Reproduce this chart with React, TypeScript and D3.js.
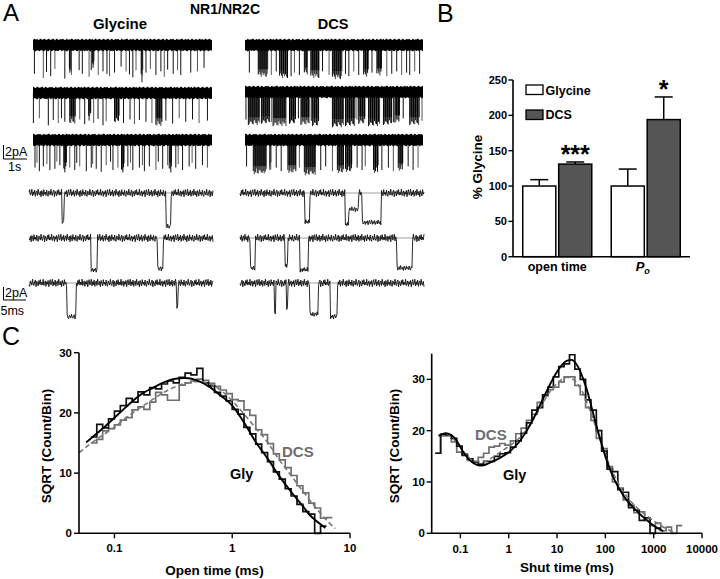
import React from 'react';
import * as d3 from 'd3';

const FONT = '"Liberation Sans", Arial, Helvetica, sans-serif';
const GRAY = '#6e6e6e';
const BAR_DARK = '#555555';
const PX_PER_PA = 6;

// ---------- Panel A: traces ----------
const NOISE = [0.3, -0.6, 0.9, -0.2, -0.8, 0.5, 0.1, -0.9, 0.7, -0.3, 0.4, -0.7, 0.8, -0.1, -0.5, 0.6, -0.9, 0.2, 0.5, -0.4, 0.9, -0.6, 0.0, 0.7, -0.8, 0.3, -0.2, 0.6, -0.7, 0.4, 0.8, -0.5, -0.1, 0.5, -0.9, 0.2, 0.6, -0.3, -0.7, 0.9, -0.4, 0.1, 0.7, -0.6, 0.3, -0.8, 0.5, -0.2, 0.4, -0.9, 0.6, 0.1, -0.5, 0.8, -0.3];

// compressed traces: spikes [time s, amplitude pA], bursts [start s, end s, amplitude pA]
const GLY_C1_SPIKES = [[0.07, 4.8], [0.52, 5.5], [0.68, 4.5], [0.89, 5.2], [1.1, 4.0], [1.6, 5.6], [1.85, 4.6], [1.93, 5.0], [2.32, 4.2], [2.48, 4.8], [2.82, 5.3], [2.93, 4.2], [3.02, 3.8], [3.28, 5.0], [3.52, 4.4], [3.72, 4.8], [3.85, 5.2], [4.1, 4.6], [4.43, 3.6], [4.68, 4.4], [4.85, 4.9], [5.02, 5.4], [5.18, 4.2], [5.48, 6.2], [5.68, 4.6], [5.9, 4.0], [6.18, 5.0], [6.43, 4.4], [6.6, 5.3], [6.77, 4.1], [7.05, 4.8], [7.27, 4.2], [7.43, 5.0], [7.93, 4.6], [8.27, 4.4], [8.6, 3.8]];
const GLY_C1_BURSTS = [[1.83, 1.95, 4.5], [3.0, 3.08, 3.5], [5.44, 5.54, 5.5]];
const GLY_C2_SPIKES = [[0.02, 5.0], [0.32, 4.2], [0.77, 5.4], [1.02, 4.5], [1.27, 5.0], [1.43, 4.2], [1.6, 4.8], [2.35, 4.4], [2.6, 5.2], [2.82, 4.6], [3.05, 5.0], [3.27, 4.3], [3.52, 5.4], [3.68, 4.7], [4.55, 5.0], [4.88, 4.4], [5.1, 5.2], [5.35, 4.5], [5.68, 4.8], [5.98, 5.0], [6.68, 4.6], [7.02, 5.1], [7.35, 4.2], [7.68, 4.8], [8.02, 4.4], [8.35, 5.0], [8.77, 4.6]];
const GLY_C2_BURSTS = [[1.85, 2.15, 5.2], [2.8, 2.9, 4.0], [4.1, 4.35, 5.0], [6.18, 6.48, 5.6]];
const GLY_C3_SPIKES = [[0.1, 4.6], [0.2, 3.8], [0.32, 5.2], [0.52, 4.4], [0.7, 4.0], [0.85, 5.0], [1.1, 4.8], [1.2, 3.6], [1.35, 4.2], [1.6, 5.4], [1.85, 4.6], [2.1, 5.0], [2.2, 3.8], [2.35, 4.4], [2.68, 5.2], [2.93, 4.6], [3.0, 4.0], [3.18, 4.8], [3.43, 5.3], [3.68, 4.2], [3.9, 3.6], [4.02, 5.0], [4.27, 4.6], [4.52, 5.4], [4.77, 4.4], [4.9, 3.8], [5.02, 5.0], [5.35, 4.6], [5.5, 4.2], [5.6, 5.2], [5.85, 4.4], [6.18, 5.0], [6.3, 3.6], [6.52, 4.8], [6.77, 4.2], [6.93, 5.4], [7.18, 4.6], [7.3, 4.0], [7.52, 5.0], [7.85, 4.4], [8.0, 3.8], [8.18, 4.8], [8.52, 4.2], [8.77, 4.6]];
const GLY_C3_BURSTS = [[1.55, 1.7, 5.0], [4.45, 4.6, 5.2], [6.85, 6.98, 5.0]];
const DCS_C1_SPIKES = [[0.22, 4.6], [1.33, 5.0], [1.58, 4.4], [2.33, 5.2], [2.5, 4.6], [2.75, 5.0], [3.92, 4.4], [4.25, 5.0], [5.08, 4.8], [5.25, 5.2], [5.5, 4.4], [5.75, 5.0], [6.42, 4.6], [7.17, 5.2], [7.42, 4.8], [7.67, 4.4], [7.92, 5.0], [8.17, 4.6], [8.33, 5.0], [8.58, 4.4], [8.83, 4.8]];
const DCS_C1_BURSTS = [[0.67, 1.17, 5.4], [1.75, 2.17, 5.6], [3.0, 3.17, 5.0], [3.33, 3.75, 5.6], [4.42, 4.92, 5.8], [6.0, 6.25, 5.4], [6.67, 6.92, 5.2]];
const DCS_C2_SPIKES = [[0.05, 4.6], [1.33, 5.0], [2.7, 4.4], [3.35, 4.8], [5.66, 4.6], [7.5, 5.0], [8.0, 4.4], [8.95, 4.8]];
const DCS_C2_BURSTS = [[0.17, 0.75, 5.6], [0.83, 1.25, 5.4], [1.42, 2.08, 5.8], [2.25, 2.58, 5.4], [2.83, 3.25, 5.6], [3.42, 3.72, 5.8], [4.42, 5.0, 6.0], [5.08, 5.58, 5.8], [5.75, 6.08, 5.4], [6.25, 6.83, 5.8], [7.0, 7.42, 5.6], [7.58, 7.83, 5.2], [8.33, 8.83, 5.6]];
const DCS_C3_SPIKES = [[0.08, 4.4], [1.25, 5.0], [1.58, 4.6], [1.83, 5.2], [2.75, 4.6], [3.83, 5.0], [4.08, 4.4], [4.42, 5.2], [5.67, 4.6], [5.92, 5.0], [6.08, 4.4], [6.92, 5.0], [7.25, 4.6], [7.5, 5.2], [8.25, 4.4], [8.5, 5.0], [8.75, 4.6]];
const DCS_C3_BURSTS = [[0.42, 1.08, 5.8], [1.25, 1.33, 5.0], [2.17, 2.58, 5.6], [3.0, 3.58, 6.0], [4.67, 5.0, 5.6], [5.08, 5.42, 5.4], [6.5, 6.75, 5.6], [7.75, 8.0, 5.2]];

// expanded traces: openings [start ms, end ms, amplitude pA]
const GLY_E1 = [[8.25, 8.7, 4.8], [34.2, 35.5, 5.6]];
const GLY_E2 = [[15.5, 17.0, 5.3], [32.2, 33.6, 5.1]];
const GLY_E3 = [[9.5, 11.8, 5.6], [36.9, 37.3, 4.0]];
const DCS_E1 = [[16.2, 17.5, 4.8], [26.2, 27.2, 5.2], [27.2, 29.6, 2.7], [30.6, 35.3, 4.9]];
const DCS_E2 = [[2.5, 3.8, 5.0], [11.2, 12.0, 4.5], [15.0, 17.0, 5.3], [39.2, 43.0, 5.0]];
const DCS_E3 = [[8.6, 9.0, 4.8], [11.6, 12.0, 4.2], [17.5, 19.5, 5.2], [22.5, 24.3, 5.6]];

// ---------- Panel B ----------
const B_GROUPS = ['open time', 'Po'];
const B_SERIES = ['Glycine', 'DCS'];
const B_MEAN_GLY = [100, 100];
const B_MEAN_DCS = [131, 194];
const B_SEM_GLY = [9, 24];
const B_SEM_DCS = [3, 32];
const B_STARS = ['***', '*'];
const B_TICKS = [0, 50, 100, 150, 200, 250];

// ---------- Panel C ----------
const OPEN_TICKS = [0.1, 1, 10];
const OPEN_TICK_LABELS = ['0.1', '1', '10'];
const SHUT_TICKS = [0.1, 1, 10, 100, 1000, 10000];
const SHUT_TICK_LABELS = ['0.1', '1', '10', '100', '1000', '10000'];
const Y_TICKS_C = [0, 10, 20, 30];

const OPEN_BIN_START_LOG = -1.2;
const OPEN_BIN_WIDTH_LOG = 0.05;
const OPEN_GLY_HIST = [16.0, 18.1, 17.5, 19.0, 20.3, 21.2, 22.4, 21.8, 23.5, 23.0, 24.2, 24.0, 24.8, 25.3, 25.0, 25.9, 26.6, 26.3, 27.4, 25.0, 24.5, 23.4, 22.8, 22.0, 20.6, 19.8, 17.6, 16.5, 14.8, 13.4, 11.9, 10.2, 9.0, 7.4, 6.2, 4.8, 3.6, 3.2, 0, 1.2];
const OPEN_DCS_HIST = [15.0, 15.6, 17.0, 17.4, 18.0, 18.8, 19.2, 20.5, 21.0, 20.6, 21.8, 23.4, 23.0, 22.1, 22.1, 24.6, 25.0, 25.3, 25.6, 25.4, 24.9, 24.4, 23.8, 23.2, 22.2, 22.0, 20.5, 19.6, 17.2, 16.4, 14.9, 13.2, 12.2, 10.9, 9.6, 7.9, 6.7, 5.0, 4.2, 2.5, 2.6];
const OPEN_GLY_FIT_T = [0.0575, 0.0794, 0.1, 0.126, 0.158, 0.182, 0.2, 0.251, 0.316, 0.398, 0.501, 0.631, 0.794, 1, 1.26, 1.58, 2.0, 2.51, 3.16, 3.98, 4.57, 5.01, 6.17];
const OPEN_GLY_FIT_Y = [15.1, 17.4, 19.2, 21.0, 22.7, 23.5, 23.9, 24.9, 25.6, 25.8, 25.4, 24.4, 22.9, 21.2, 18.4, 15.2, 12.4, 9.5, 6.9, 4.5, 3.0, 2.3, 0.9];
const OPEN_DCS_FIT_T = [0.05, 0.063, 0.0794, 0.1, 0.126, 0.158, 0.2, 0.251, 0.316, 0.398, 0.501, 0.631, 0.794, 1, 1.26, 1.58, 2.0, 2.51, 3.16, 3.98, 5.01, 6.31, 7.5];
const OPEN_DCS_FIT_Y = [13.4, 14.9, 16.3, 17.6, 19.2, 20.6, 21.9, 23.2, 24.2, 24.9, 25.2, 24.9, 23.8, 22.0, 19.8, 17.5, 15.1, 12.2, 9.6, 7.0, 4.5, 2.2, 0.8];

const SHUT_BIN_START_LOG = -1.52;
const SHUT_BIN_WIDTH_LOG = 1 / 9;
const SHUT_GLY_HIST = [15.6, 19.3, 19.2, 18.5, 17.0, 15.2, 14.5, 13.8, 13.5, 14.0, 14.0, 15.0, 15.5, 15.7, 16.8, 18.0, 19.5, 21.5, 24.0, 24.5, 27.0, 28.5, 30.5, 32.5, 33.0, 34.8, 32.0, 30.0, 26.0, 24.0, 20.0, 16.0, 12.5, 12.0, 8.5, 8.0, 5.0, 4.5, 2.5, 3.0, 0, 1.0];
const SHUT_DCS_HIST = [15.6, 19.0, 19.0, 17.8, 15.8, 15.5, 14.2, 14.0, 14.8, 15.6, 16.8, 17.0, 17.5, 17.2, 18.0, 19.4, 20.5, 22.0, 23.2, 25.5, 26.8, 28.0, 28.5, 29.5, 30.5, 30.5, 28.8, 27.0, 24.5, 22.0, 18.5, 16.5, 13.0, 10.0, 8.8, 6.5, 5.5, 4.0, 4.2, 2.5, 1.5, 2.0, 0.5, 1.2, 0, 1.5];
const SHUT_GLY_FIT_T = [0.0355, 0.05, 0.063, 0.079, 0.1, 0.126, 0.158, 0.2, 0.251, 0.316, 0.398, 0.631, 1, 1.58, 2.51, 3.98, 6.31, 10, 15.8, 20, 25.1, 39.8, 63.1, 100, 158, 251, 398, 631, 1000, 1585];
const SHUT_GLY_FIT_Y = [19.0, 19.5, 19.2, 18.4, 16.8, 15.3, 14.2, 13.5, 13.2, 13.3, 13.7, 14.6, 15.8, 17.6, 20.4, 24.0, 28.0, 31.5, 33.6, 33.8, 33.0, 28.5, 21.5, 15.0, 10.2, 7.0, 4.8, 3.0, 1.5, 0.4];
const SHUT_DCS_FIT_T = [0.0355, 0.05, 0.079, 0.126, 0.2, 0.316, 0.5, 0.794, 1.26, 2.0, 3.16, 5.01, 7.94, 12.6, 15.8, 20, 31.6, 50.1, 79.4, 126, 200, 316, 501, 794, 1259, 1995, 2512];
const SHUT_DCS_FIT_Y = [19.0, 19.3, 18.0, 15.5, 14.0, 14.0, 15.0, 16.3, 17.6, 19.4, 22.0, 25.3, 28.2, 30.0, 30.4, 30.2, 28.0, 23.5, 18.0, 13.0, 9.2, 6.5, 4.6, 3.1, 1.8, 0.7, 0.3];

const NN = NOISE.length;

function CompTrace({ x0, x1, c, spikes, bursts, off }: any) {
  const xs = d3.scaleLinear().domain([0, 9]).range([x0, x1]);
  const ya = (a: number) => c + a * PX_PER_PA;
  const idx = d3.range(0, Math.round(x1 - x0) + 1);
  const band = d3.area<number>()
    .x((i) => x0 + i)
    .y0((i) => c - 4.5 - Math.abs(NOISE[(i + off) % NN]) * 2.2)
    .y1((i) => c + 4.5 + Math.abs(NOISE[(i + off + 5) % NN]) * 2.2);
  return (
    <g>
      {bursts.map((b: number[], i: number) => (
        <g key={'b' + i}>
          <rect x={xs(b[0])} y={c} width={Math.max(1, xs(b[1]) - xs(b[0]))} height={b[2] * PX_PER_PA * 0.75} fill="#000" />
          {d3.range(b[0], b[1], 0.05).map((t, j) => (
            <line key={j} x1={xs(t)} x2={xs(t)} y1={c} y2={ya(b[2] * (0.82 + 0.18 * Math.abs(NOISE[(j + off) % NN])))} stroke={j % 2 ? '#444' : '#000'} strokeWidth={1} />
          ))}
        </g>
      ))}
      {spikes.map((s: number[], i: number) => (
        <line key={'s' + i} x1={xs(s[0])} x2={xs(s[0])} y1={c} y2={ya(s[1])} stroke={i % 3 === 1 ? '#555' : '#111'} strokeWidth={1} />
      ))}
      <path d={band(idx) || ''} fill="#000" />
    </g>
  );
}

function ExpTrace({ x0, base, events, off }: any) {
  const xs = d3.scaleLinear().domain([0, 46]).range([x0, x0 + 184]);
  const samples = d3.range(0, 261).map((i) => {
    const t = i * (46 / 260);
    let cur = 0;
    for (const e of events) if (t >= e[0] && t <= e[1]) cur = e[2];
    const n = NOISE[(i + off) % NN] * (cur > 0 ? 0.45 : 0.7);
    return [t, base + (cur + n) * PX_PER_PA];
  });
  const line = d3.line<number[]>().x((d) => xs(d[0])).y((d) => d[1]);
  return (
    <g>
      <line x1={xs(0)} x2={xs(46)} y1={base} y2={base} stroke="#777" strokeWidth={0.7} />
      <path d={line(samples) || ''} fill="none" stroke="#111" strokeWidth={0.9} />
    </g>
  );
}

function Hist({ x, y, start, w, vals, color }: any) {
  let d = '';
  vals.forEach((v: number, k: number) => {
    const xa = x(Math.pow(10, start + k * w));
    const xb = x(Math.pow(10, start + (k + 1) * w));
    d += (k === 0 ? `M${xa},${y(v)}` : `V${y(v)}`) + `H${xb}`;
  });
  return <path d={d} fill="none" stroke={color} strokeWidth={1.7} />;
}

function Fit({ x, y, ts, ys, color, dash }: any) {
  const line = d3.line<number>().x((i) => x(ts[i])).y((i) => y(ys[i])).curve(d3.curveMonotoneX);
  return <path d={line(d3.range(ts.length)) || ''} fill="none" stroke={color} strokeWidth={dash ? 1.6 : 1.9} strokeDasharray={dash ? '5,3' : undefined} />;
}

function LogPanel({ x, y, ticks, tickLabels, yTop, label, ylabelX, labelY, tickLabelY, yLabelRight }: any) {
  const [xa, xb] = x.range();
  const [y0] = y.range();
  return (
    <g fontFamily={FONT} fontWeight="bold">
      <line x1={xa} x2={xb} y1={y0} y2={y0} stroke="#000" strokeWidth={1.6} />
      <line x1={xa} x2={xa} y1={y0} y2={y(yTop)} stroke="#000" strokeWidth={1.6} />
      {ticks.map((t: number, i: number) => (
        <g key={i}>
          <line x1={x(t)} x2={x(t)} y1={y0} y2={y0 + 5} stroke="#000" strokeWidth={1.4} />
          <text x={x(t)} y={tickLabelY} textAnchor="middle" fontSize={11.5}>{tickLabels[i]}</text>
        </g>
      ))}
      {Y_TICKS_C.map((t) => (
        <g key={t}>
          <line x1={xa - 5} x2={xa} y1={y(t)} y2={y(t)} stroke="#000" strokeWidth={1.4} />
          <text x={yLabelRight} y={y(t) + 4} textAnchor="end" fontSize={11.5}>{t}</text>
        </g>
      ))}
      <text x={(xa + xb) / 2} y={labelY} textAnchor="middle" fontSize={13.5}>{label}</text>
      <text transform={`translate(${ylabelX},446) rotate(-90)`} textAnchor="middle" fontSize={13.5}>SQRT (Count/Bin)</text>
    </g>
  );
}

export default function App() {
  // Panel B scales
  const yB = d3.scaleLinear().domain([0, 250]).range([256.7, 80]);
  const x0B = d3.scaleBand().domain(B_GROUPS).range([513, 690]).paddingInner(0.22).paddingOuter(0.11);
  const x1B = d3.scaleBand().domain(B_SERIES).range([0, x0B.bandwidth()]).paddingInner(0.08);
  const bw = x1B.bandwidth();
  const bSeries = [
    { name: 'Glycine', mean: B_MEAN_GLY, sem: B_SEM_GLY, fill: '#ffffff' },
    { name: 'DCS', mean: B_MEAN_DCS, sem: B_SEM_DCS, fill: BAR_DARK },
  ];

  // Panel C scales
  const xL = d3.scaleLog().domain([0.05, 10]).range([79, 350]);
  const yL = d3.scaleLinear().domain([0, 30]).range([533.3, 352.7]);
  const xR = d3.scaleLog().domain([0.0255, 10000]).range([431.7, 702]);
  const yR = d3.scaleLinear().domain([0, 35]).range([533.3, 353.7]);

  return (
    <svg width={720} height={579} style={{ position: 'absolute', left: 0, top: 0, background: '#fff' }} fontFamily={FONT}>
      <rect width={720} height={579} fill="#fff" />
      {/* Panel letters */}
      <text x={3} y={21} fontSize={24}>A</text>
      <text x={437} y={22} fontSize={25}>B</text>
      <text x={2} y={345} fontSize={25}>C</text>

      {/* Panel A titles */}
      <text x={225} y={14} textAnchor="middle" fontSize={14} fontWeight="bold">NR1/NR2C</text>
      <text x={120} y={29} textAnchor="middle" fontSize={15} fontWeight="bold">Glycine</text>
      <text x={333} y={29} textAnchor="middle" fontSize={14.5} fontWeight="bold">DCS</text>

      {/* Compressed traces */}
      <CompTrace x0={33} x1={212} c={45} spikes={GLY_C1_SPIKES} bursts={GLY_C1_BURSTS} off={0} />
      <CompTrace x0={33} x1={212} c={93} spikes={GLY_C2_SPIKES} bursts={GLY_C2_BURSTS} off={11} />
      <CompTrace x0={33} x1={212} c={140} spikes={GLY_C3_SPIKES} bursts={GLY_C3_BURSTS} off={23} />
      <CompTrace x0={245} x1={423} c={45} spikes={DCS_C1_SPIKES} bursts={DCS_C1_BURSTS} off={31} />
      <CompTrace x0={245} x1={423} c={92} spikes={DCS_C2_SPIKES} bursts={DCS_C2_BURSTS} off={7} />
      <CompTrace x0={245} x1={423} c={140} spikes={DCS_C3_SPIKES} bursts={DCS_C3_BURSTS} off={19} />

      {/* Scale bar 1 */}
      <line x1={3.5} x2={3.5} y1={145} y2={159} stroke="#000" strokeWidth={1} />
      <line x1={3.5} x2={27} y1={159} y2={159} stroke="#000" strokeWidth={1} />
      <text x={5} y={155.5} fontSize={12.5}>2pA</text>
      <text x={8} y={171} fontSize={12.5}>1s</text>

      {/* Expanded traces */}
      <ExpTrace x0={29} base={193} events={GLY_E1} off={3} />
      <ExpTrace x0={29} base={238} events={GLY_E2} off={17} />
      <ExpTrace x0={29} base={283} events={GLY_E3} off={29} />
      <ExpTrace x0={240} base={193} events={DCS_E1} off={41} />
      <ExpTrace x0={240} base={238} events={DCS_E2} off={9} />
      <ExpTrace x0={240} base={283} events={DCS_E3} off={35} />

      {/* Scale bar 2 */}
      <line x1={3.5} x2={3.5} y1={287} y2={300} stroke="#000" strokeWidth={1} />
      <line x1={3.5} x2={26} y1={300} y2={300} stroke="#000" strokeWidth={1} />
      <text x={5} y={297} fontSize={12.5}>2pA</text>
      <text x={0.5} y={315} fontSize={12.5}>5ms</text>

      {/* Panel B */}
      <g fontWeight="bold">
        {bSeries.map((s) => (
          <g key={s.name}>
            {B_GROUPS.map((g, i) => {
              const bx = (x0B(g) || 0) + (x1B(s.name) || 0);
              const cx = bx + bw / 2;
              return (
                <g key={g}>
                  <line x1={cx} x2={cx} y1={yB(s.mean[i])} y2={yB(s.mean[i] + s.sem[i])} stroke="#000" strokeWidth={1.5} />
                  <line x1={cx - 9} x2={cx + 9} y1={yB(s.mean[i] + s.sem[i])} y2={yB(s.mean[i] + s.sem[i])} stroke="#000" strokeWidth={1.5} />
                  <rect x={bx} y={yB(s.mean[i])} width={bw} height={yB(0) - yB(s.mean[i])} fill={s.fill} stroke="#000" strokeWidth={1.5} />
                </g>
              );
            })}
          </g>
        ))}
        {B_GROUPS.map((g, i) => {
          const cx = (x0B(g) || 0) + (x1B('DCS') || 0) + bw / 2;
          const top = yB(B_MEAN_DCS[i] + B_SEM_DCS[i]);
          return <text key={g} x={cx} y={top + 1} textAnchor="middle" fontSize={25}>{B_STARS[i]}</text>;
        })}
        <line x1={513} x2={690} y1={yB(0)} y2={yB(0)} stroke="#000" strokeWidth={1.6} />
        <line x1={513} x2={513} y1={yB(0)} y2={yB(250)} stroke="#000" strokeWidth={1.6} />
        {B_TICKS.map((t) => (
          <g key={t}>
            <line x1={508.5} x2={513} y1={yB(t)} y2={yB(t)} stroke="#000" strokeWidth={1.4} />
            <text x={507} y={yB(t) + 4} textAnchor="end" fontSize={11}>{t}</text>
          </g>
        ))}
        <text x={(x0B('open time') || 0) + x0B.bandwidth() / 2} y={271} textAnchor="middle" fontSize={12.5}>open time</text>
        <text x={(x0B('Po') || 0) + x0B.bandwidth() / 2 - 3} y={271} textAnchor="middle" fontSize={13} fontStyle="italic">P<tspan fontSize={9} dy={3}>o</tspan></text>
        <text transform="translate(481.5,167) rotate(-90)" textAnchor="middle" fontSize={13.5}>% Glycine</text>
        {/* legend */}
        <rect x={526} y={85} width={17} height={9.5} fill="#fff" stroke="#000" strokeWidth={1.3} />
        <text x={545.5} y={94.5} fontSize={12.5}>Glycine</text>
        <rect x={526} y={110} width={17} height={9.5} fill={BAR_DARK} stroke="#000" strokeWidth={1.3} />
        <text x={545.5} y={119} fontSize={12.5}>DCS</text>
      </g>

      {/* Panel C left: open time */}
      <Hist x={xL} y={yL} start={OPEN_BIN_START_LOG} w={OPEN_BIN_WIDTH_LOG} vals={OPEN_DCS_HIST} color={GRAY} />
      <Hist x={xL} y={yL} start={OPEN_BIN_START_LOG} w={OPEN_BIN_WIDTH_LOG} vals={OPEN_GLY_HIST} color="#111" />
      <Fit x={xL} y={yL} ts={OPEN_DCS_FIT_T} ys={OPEN_DCS_FIT_Y} color="#777" dash />
      <Fit x={xL} y={yL} ts={OPEN_GLY_FIT_T} ys={OPEN_GLY_FIT_Y} color="#000" />
      <LogPanel x={xL} y={yL} ticks={OPEN_TICKS} tickLabels={OPEN_TICK_LABELS} yTop={30} label="Open time (ms)" ylabelX={51} labelY={575} tickLabelY={551.5} yLabelRight={72} />
      <text x={282} y={457} fontSize={15} fontWeight="bold" fill={GRAY}>DCS</text>
      <text x={230} y={479} fontSize={14.5} fontWeight="bold" fill="#000">Gly</text>

      {/* Panel C right: shut time */}
      <Hist x={xR} y={yR} start={SHUT_BIN_START_LOG} w={SHUT_BIN_WIDTH_LOG} vals={SHUT_DCS_HIST} color={GRAY} />
      <Hist x={xR} y={yR} start={SHUT_BIN_START_LOG} w={SHUT_BIN_WIDTH_LOG} vals={SHUT_GLY_HIST} color="#111" />
      <Fit x={xR} y={yR} ts={SHUT_DCS_FIT_T} ys={SHUT_DCS_FIT_Y} color="#777" dash />
      <Fit x={xR} y={yR} ts={SHUT_GLY_FIT_T} ys={SHUT_GLY_FIT_Y} color="#000" />
      <LogPanel x={xR} y={yR} ticks={SHUT_TICKS} tickLabels={SHUT_TICK_LABELS} yTop={35} label="Shut time (ms)" ylabelX={399} labelY={572} tickLabelY={553} yLabelRight={425} />
      <text x={475} y={440} fontSize={15} fontWeight="bold" fill={GRAY}>DCS</text>
      <text x={503} y={480} fontSize={14.5} fontWeight="bold" fill="#000">Gly</text>
    </svg>
  );
}
